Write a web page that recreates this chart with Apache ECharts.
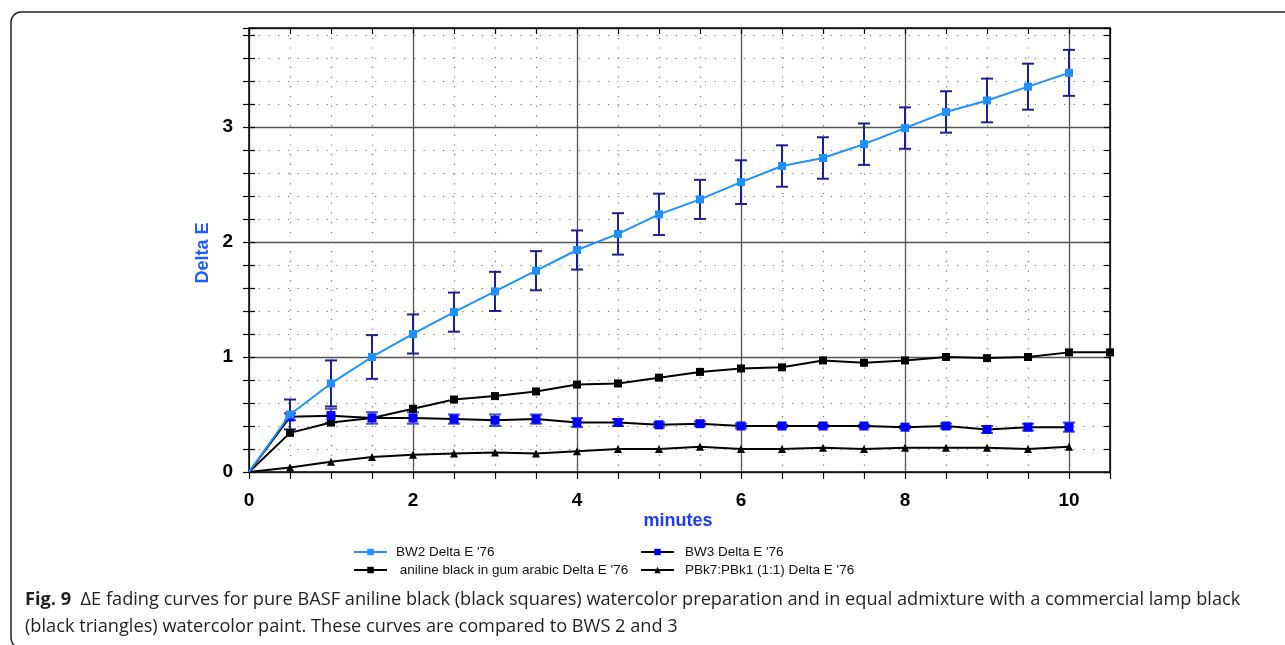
<!DOCTYPE html>
<html>
<head>
<meta charset="utf-8">
<script src="https://cdn.jsdelivr.net/npm/echarts@6/dist/echarts.min.js"></script>
<style>
  html, body { margin: 0; padding: 0; background: #fff; }
  #chart { width: 1285px; height: 645px; }
</style>
</head>
<body>
<div id="chart"></div>
<script>
// x positions (minutes)
const minutes = [0, 0.5, 1, 1.5, 2, 2.5, 3, 3.5, 4, 4.5, 5, 5.5, 6, 6.5, 7, 7.5, 8, 8.5, 9, 9.5, 10];
const minutesAniline = minutes.concat([10.5]);

// BW2 Delta E '76 and its error (half width)
const bw2 = [0, 0.50, 0.77, 1.00, 1.20, 1.39, 1.57, 1.75, 1.93, 2.07, 2.24, 2.37, 2.52, 2.66, 2.73, 2.85, 2.99, 3.13, 3.23, 3.35, 3.47];
const bw2Err = [0, 0.13, 0.20, 0.19, 0.17, 0.17, 0.17, 0.17, 0.17, 0.18, 0.18, 0.17, 0.19, 0.18, 0.18, 0.18, 0.18, 0.18, 0.19, 0.20, 0.20];

// BW3 Delta E '76 and its error
const bw3 = [0, 0.48, 0.49, 0.47, 0.47, 0.46, 0.45, 0.46, 0.43, 0.43, 0.41, 0.42, 0.40, 0.40, 0.40, 0.40, 0.39, 0.40, 0.37, 0.39, 0.39];
const bw3Err = [0, 0.03, 0.06, 0.05, 0.05, 0.04, 0.05, 0.04, 0.04, 0.03, 0.02, 0.02, 0.02, 0.01, 0.01, 0.01, 0.01, 0.02, 0.03, 0.03, 0.04];

// aniline black in gum arabic
const aniline = [0, 0.34, 0.43, 0.47, 0.55, 0.63, 0.66, 0.70, 0.76, 0.77, 0.82, 0.87, 0.90, 0.91, 0.97, 0.95, 0.97, 1.00, 0.99, 1.00, 1.04, 1.04];

// PBk7:PBk1 (1:1)
const pbk = [0, 0.04, 0.09, 0.13, 0.15, 0.16, 0.17, 0.16, 0.18, 0.20, 0.20, 0.22, 0.20, 0.20, 0.21, 0.20, 0.21, 0.21, 0.21, 0.20, 0.22];

const names = ["BW2 Delta E '76", "BW3 Delta E '76", " aniline black in gum arabic Delta E '76", "PBk7:PBk1 (1:1) Delta E '76"];

const X_MAX = 10.5;
const Y_MAX = 3.86;
const FONT = '"Liberation Sans", Arial, sans-serif';
const CAPTION_FONT = '"Open Sans", sans-serif';

const chart = echarts.init(document.getElementById('chart'));

// first point sits on the origin without a marker
const pts = (xs, ys) => ys.map((y, i) => i === 0 ? { value: [xs[i], y], symbol: 'none' } : [xs[i], y]);
const errPts = (xs, ys, es) => ys.map((y, i) => [xs[i], y, es[i]]).filter(d => d[2] > 0);

function errorBar(params, api) {
  const x = api.value(0), y = api.value(1), e = api.value(2);
  const top = api.coord([x, y + e]);
  const bot = api.coord([x, y - e]);
  const half = 6;
  const style = { stroke: api.visual('color'), lineWidth: 2 };
  return {
    type: 'group',
    children: [
      { type: 'line', shape: { x1: top[0], y1: top[1], x2: bot[0], y2: bot[1] }, style: style },
      { type: 'line', shape: { x1: top[0] - half, y1: top[1], x2: top[0] + half, y2: top[1] }, style: style },
      { type: 'line', shape: { x1: bot[0] - half, y1: bot[1], x2: bot[0] + half, y2: bot[1] }, style: style }
    ]
  };
}

const dotted = { show: true, lineStyle: { color: '#7a7a7a', width: 1.2, type: [1.2, 8.5] } };
const solid = { show: true, lineStyle: { color: '#555', width: 1.3 } };
const hidden = { show: false };

const option = {
  animation: false,
  grid: { left: 249, right: 175, top: 28, bottom: 173 },
  xAxis: [
    { // minor grid + bottom labels
      type: 'value', min: 0, max: X_MAX, interval: 0.5, position: 'bottom',
      axisLine: { show: true, onZero: false, lineStyle: { color: '#000', width: 1.5 } },
      axisTick: { show: true, length: 7, lineStyle: { color: '#000', width: 1.2 } },
      axisLabel: {
        margin: 19, color: '#000', fontSize: 19, fontWeight: 'bold', fontFamily: FONT,
        formatter: v => (Math.abs(v / 2 - Math.round(v / 2)) < 1e-6 && v <= 10) ? String(v) : ''
      },
      splitLine: dotted
    },
    { // major grid lines
      type: 'value', min: 0, max: X_MAX, interval: 2, position: 'bottom',
      axisLine: hidden, axisTick: hidden, axisLabel: hidden, splitLine: solid
    },
    { // top frame with inward ticks
      type: 'value', min: 0, max: X_MAX, interval: 0.5, position: 'top',
      axisLine: { show: true, onZero: false, lineStyle: { color: '#000', width: 1.5 } },
      axisTick: { show: true, inside: true, length: 6, lineStyle: { color: '#000', width: 1.2 } },
      axisLabel: hidden, splitLine: hidden
    }
  ],
  yAxis: [
    { // minor grid + left labels
      type: 'value', min: 0, max: Y_MAX, interval: 0.2, position: 'left',
      axisLine: { show: true, onZero: false, lineStyle: { color: '#000', width: 1.5 } },
      axisTick: { show: true, length: 6, lineStyle: { color: '#000', width: 1.2 } },
      axisLabel: {
        margin: 16, color: '#000', fontSize: 19, fontWeight: 'bold', fontFamily: FONT,
        formatter: v => (Math.abs(v - Math.round(v)) < 1e-6 && v <= 3) ? String(Math.round(v)) : ''
      },
      splitLine: dotted
    },
    { // inward half of the left ticks
      type: 'value', min: 0, max: Y_MAX, interval: 0.2, position: 'left',
      axisLine: hidden, axisLabel: hidden, splitLine: hidden,
      axisTick: { show: true, inside: true, length: 6, lineStyle: { color: '#000', width: 1.2 } }
    },
    { // major grid lines
      type: 'value', min: 0, max: Y_MAX, interval: 1, position: 'left',
      axisLine: hidden, axisTick: hidden, axisLabel: hidden, splitLine: solid
    },
    { // right frame with inward ticks
      type: 'value', min: 0, max: Y_MAX, interval: 0.2, position: 'right',
      axisLine: { show: true, onZero: false, lineStyle: { color: '#000', width: 1.5 } },
      axisTick: { show: true, inside: true, length: 6, lineStyle: { color: '#000', width: 1.2 } },
      axisLabel: hidden, splitLine: hidden
    }
  ],
  legend: [
    {
      left: 353, top: 545, padding: 0, orient: 'vertical', itemGap: 4, itemWidth: 33, itemHeight: 8,
      data: [names[0], names[2]],
      textStyle: { fontSize: 13.5, color: '#111', fontFamily: FONT, padding: [0, 0, 0, 4] }
    },
    {
      left: 640, top: 545, padding: 0, orient: 'vertical', itemGap: 4, itemWidth: 33, itemHeight: 8,
      data: [names[1], names[3]],
      textStyle: { fontSize: 13.5, color: '#111', fontFamily: FONT, padding: [0, 0, 0, 6] }
    }
  ],
  graphic: [
    {
      type: 'rect', silent: true, z: -1,
      shape: { x: 11, y: 12, width: 1400, height: 636, r: 10 },
      style: { fill: 'none', stroke: '#222', lineWidth: 1.5 }
    },
    {
      type: 'text', x: 203, y: 253, rotation: Math.PI / 2,
      style: { text: 'Delta E', fill: '#1d5cff', font: 'bold 18px ' + FONT, align: 'center', verticalAlign: 'middle' }
    },
    {
      type: 'text', x: 678, y: 521,
      style: { text: 'minutes', fill: '#1d3cf0', font: 'bold 18px ' + FONT, align: 'center', verticalAlign: 'middle' }
    },
    {
      type: 'text', left: 25, top: 586,
      style: {
        text: '{b|Fig. 9}  ΔE fading curves for pure BASF aniline black (black squares) watercolor preparation and in equal admixture with a commercial lamp black\n(black triangles) watercolor paint. These curves are compared to BWS 2 and 3',
        font: '18.2px ' + CAPTION_FONT,
        fill: '#231f20', lineHeight: 27,
        rich: { b: { font: 'bold 18.2px ' + CAPTION_FONT, fill: '#231f20', lineHeight: 27 } }
      }
    }
  ],
  series: [
    {
      type: 'custom', name: 'bw2err', renderItem: errorBar, z: 1,
      itemStyle: { color: '#1f1f8f' }, data: errPts(minutes, bw2, bw2Err)
    },
    {
      type: 'custom', name: 'bw3err', renderItem: errorBar, z: 1,
      itemStyle: { color: '#4a4ac8' }, data: errPts(minutes, bw3, bw3Err)
    },
    {
      type: 'line', name: names[3], data: pts(minutes, pbk), z: 3,
      symbol: 'triangle', symbolSize: 8,
      lineStyle: { color: '#000', width: 2 }, itemStyle: { color: '#000' }
    },
    {
      type: 'line', name: names[2], data: pts(minutesAniline, aniline), z: 3,
      symbol: 'rect', symbolSize: 8,
      lineStyle: { color: '#000', width: 2 }, itemStyle: { color: '#000' }
    },
    {
      type: 'line', name: names[1], data: pts(minutes, bw3), z: 4,
      symbol: 'rect', symbolSize: 9,
      lineStyle: { color: '#000', width: 2 }, itemStyle: { color: '#0000ff' }
    },
    {
      type: 'line', name: names[0], data: pts(minutes, bw2), z: 5,
      symbol: 'rect', symbolSize: 8,
      lineStyle: { color: '#1e90ff', width: 2 }, itemStyle: { color: '#1e90ff' }
    }
  ]
};

chart.setOption(option);
</script>
</body>
</html>
